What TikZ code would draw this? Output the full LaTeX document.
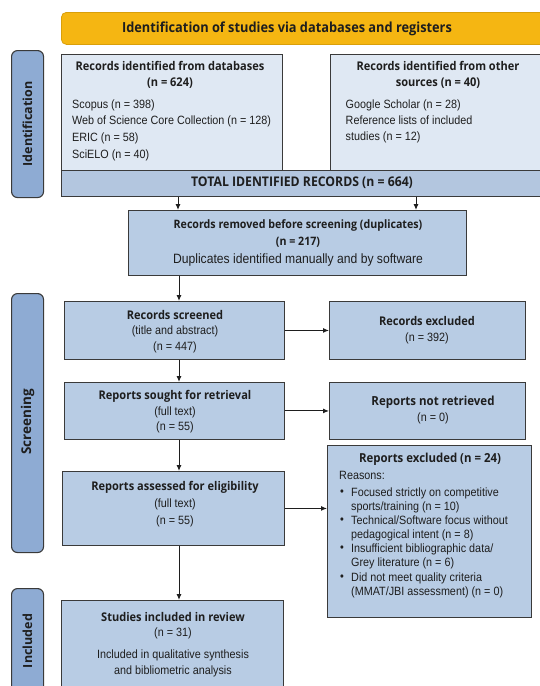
\documentclass[tikz,border=0pt]{standalone}
\usepackage{fontspec}
\setmainfont[FakeStretch=0.9]{Liberation Sans}
\newfontfamily\ttlfam[FakeStretch=0.92]{Open Sans}
\newfontfamily\sidefam{Open Sans}
\usetikzlibrary{arrows.meta,calc}
\definecolor{hdrYellow}{HTML}{F5B612}
\definecolor{hdrEdge}{HTML}{D99F0A}
\definecolor{sideBlue}{HTML}{8EABD3}
\definecolor{lightBlue}{HTML}{DFE8F3}
\definecolor{totBlue}{HTML}{B3C6DF}
\definecolor{midBlue}{HTML}{B8CCE4}
\definecolor{edgeGray}{HTML}{3A3A3A}
\definecolor{txtDark}{HTML}{1E1E1E}
\tikzset{
  hdrbox/.style={fill=hdrYellow, draw=hdrEdge, line width=0.8pt, rounded corners=5pt, anchor=north west, inner sep=0pt},
  sidebox/.style={fill=sideBlue, draw=edgeGray, line width=1.1pt, rounded corners=6pt, anchor=north west, inner sep=0pt},
  lbox/.style={fill=lightBlue, draw=edgeGray, line width=0.9pt, anchor=north west, inner sep=0pt},
  tbox/.style={fill=totBlue, draw=edgeGray, line width=0.9pt, anchor=north west, inner sep=0pt},
  mbox/.style={fill=midBlue, draw=edgeGray, line width=0.9pt, anchor=north west, inner sep=0pt},
  ttl/.style={font=\ttlfam\bfseries\fontsize{12}{16}\selectfont, text=txtDark, inner sep=0pt, align=center},
  sidettl/.style={font=\sidefam\bfseries\fontsize{12.5}{15}\selectfont, text=txtDark, inner sep=0pt, rotate=90},
  txt/.style={font=\fontsize{12}{16}\selectfont, text=txtDark, inner sep=0pt, align=center},
  ltxt/.style={font=\fontsize{12}{16.6}\selectfont, text=txtDark, inner sep=0pt, align=left, anchor=west},
  btxt/.style={font=\fontsize{12}{14}\selectfont, text=txtDark, inner sep=0pt, align=left, anchor=west},
  arr/.style={-{Latex[length=6pt,width=5pt]}, line width=1pt, draw=txtDark}
}
\begin{document}
\begin{tikzpicture}[x=1pt,y=-1pt]
\fill[white] (0,0) rectangle (539,686);
\useasboundingbox (0,0) rectangle (539,686);
% coordinates for vertical connector lines
\coordinate (c178) at (178,0);
\coordinate (c416) at (416,0);
\coordinate (c179) at (179,0);
% header
\node[hdrbox, minimum width=500pt, minimum height=32pt] (hdr) at (61,12) {};
\node[ttl, font=\ttlfam\bfseries\fontsize{13.9}{16}\selectfont] (hdrT) at (287,28.5) {Identification of studies via databases and registers};
% side labels
\node[sidebox, minimum width=32pt, minimum height=147pt] (sId) at (11,50) {};
\node[sidettl] (sIdT) at (27.5,124) {Identification};
\node[sidebox, minimum width=32pt, minimum height=259pt] (sSc) at (11,293) {};
\node[sidettl, font=\sidefam\bfseries\fontsize{13.5}{15}\selectfont] (sScT) at (27.5,422) {Screening};
\node[sidebox, minimum width=32pt, minimum height=120pt] (sIn) at (11,588) {};
\node[sidettl] (sInT) at (27.5,641) {Included};
% identification boxes
\node[lbox, minimum width=221pt, minimum height=116pt] (b1) at (61,54) {};
\node[ttl] (b1T) at (170,75) {Records identified from databases\\(n = 624)};
\node[ltxt] (b1L) at (72,130) {Scopus (n = 398)\\Web of Science Core Collection (n = 128)\\ERIC (n = 58)\\SciELO (n = 40)};
\node[lbox, minimum width=216pt, minimum height=116pt] (b2) at (330,54) {};
\node[ttl] (b2T) at (438,75) {Records identified from other\\sources (n = 40)};
\node[ltxt, font=\fontsize{12}{16}\selectfont] (b2L) at (345.5,121) {Google Scholar (n = 28)\\Reference lists of included\\studies (n = 12)};
\node[tbox, minimum width=499pt, minimum height=26pt] (tot) at (61,170) {};
\node[ttl, font=\ttlfam\bfseries\fontsize{13.3}{16}\selectfont] (totT) at (302,183) {TOTAL IDENTIFIED RECORDS (n = 664)};
% duplicates
\node[mbox, minimum width=338pt, minimum height=65pt] (dup) at (128,210) {};
\node[ttl, font=\ttlfam\bfseries\fontsize{11.6}{17}\selectfont] (dupT) at (298,233.5) {Records removed before screening (duplicates)\\(n = 217)};
\node[txt, font=\fontsize{13.5}{16}\selectfont] (dupS) at (298,260) {Duplicates identified manually and by software};
% screening
\node[mbox, minimum width=220pt, minimum height=58pt] (scr) at (64,301) {};
\node[ttl] (scrT) at (175,315) {Records screened};
\node[txt] (scrS) at (175,339) {(title and abstract)\\(n = 447)};
\node[mbox, minimum width=196pt, minimum height=58pt] (exc) at (329,301) {};
\node[ttl] (excT) at (427,321) {Records excluded};
\node[txt] (excS) at (427,338) {(n = 392)};
\node[mbox, minimum width=220pt, minimum height=57pt] (sou) at (64,382) {};
\node[ttl] (souT) at (175,396) {Reports sought for retrieval};
\node[txt, font=\fontsize{12}{15}\selectfont] (souS) at (175,419.5) {(full text)\\(n = 55)};
\node[mbox, minimum width=196pt, minimum height=57pt] (nr) at (329,382) {};
\node[ttl, font=\ttlfam\bfseries\fontsize{12.5}{16}\selectfont] (nrT) at (433,402) {Reports not retrieved};
\node[txt] (nrS) at (433,418) {(n = 0)};
\node[mbox, minimum width=222pt, minimum height=74pt] (ass) at (62,471) {};
\node[ttl] (assT) at (175,487.5) {Reports assessed for eligibility};
\node[txt, font=\fontsize{12}{17}\selectfont] (assS) at (175,512.5) {(full text)\\(n = 55)};
\node[mbox, minimum width=204pt, minimum height=172pt] (ex24) at (327,445) {};
\node[ttl, font=\ttlfam\bfseries\fontsize{12.4}{16}\selectfont] (ex24T) at (430,459) {Reports excluded (n = 24)};
\node[btxt] (ex24R) at (339,475) {Reasons:};
\node[btxt] (bu1) at (340,493) {\textbullet};
\node[btxt] (it1) at (351,500) {Focused strictly on competitive\\sports/training (n = 10)};
\node[btxt] (bu2) at (340,521) {\textbullet};
\node[btxt] (it2) at (351,528) {Technical/Software focus without\\pedagogical intent (n = 8)};
\node[btxt] (bu3) at (340,549) {\textbullet};
\node[btxt] (it3) at (351,556) {Insufficient bibliographic data/\\Grey literature (n = 6)};
\node[btxt] (bu4) at (340,578) {\textbullet};
\node[btxt] (it4) at (351,585.5) {Did not meet quality criteria\\(MMAT/JBI assessment) (n = 0)};
% included
\node[mbox, minimum width=222pt, minimum height=110pt] (stu) at (61,600) {};
\node[ttl] (stuT) at (173,617) {Studies included in review};
\node[txt] (stuN) at (173,633) {(n = 31)};
\node[txt] (stuS) at (173,663) {Included in qualitative synthesis\\and bibliometric analysis};
% connectors
\draw[arr] (tot.south -| c178) -- (dup.north -| c178);
\draw[arr] (tot.south -| c416) -- (dup.north -| c416);
\draw[arr] (dup.south -| c179) -- (scr.north -| c179);
\draw[arr] (scr.east) -- (exc.west);
\draw[arr] (scr.south -| c179) -- (sou.north -| c179);
\draw[arr] (sou.east) -- (nr.west);
\draw[arr] (sou.south -| c179) -- (ass.north -| c179);
\draw[arr] (ass.east) -- (ass.east -| ex24.west);
\draw[arr] (ass.south -| c179) -- (stu.north -| c179);
\end{tikzpicture}
\end{document}
